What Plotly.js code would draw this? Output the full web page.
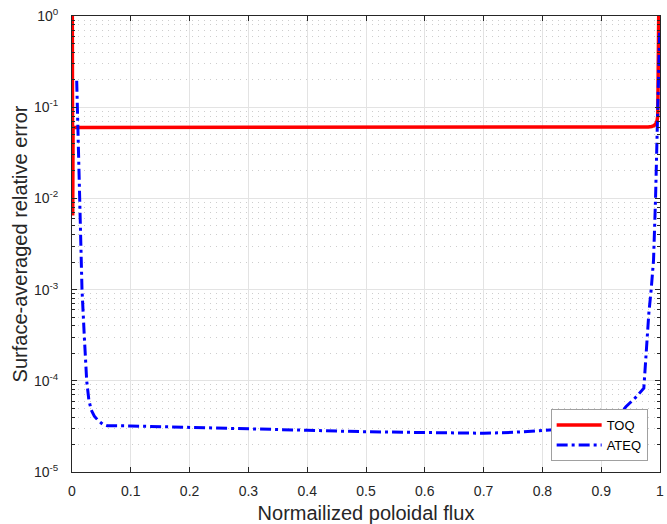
<!DOCTYPE html>
<html>
<head>
<meta charset="utf-8">
<script src="https://cdn.plot.ly/plotly-3.0.1.min.js"></script>
<style>html,body{margin:0;padding:0;background:#fff}#chart{width:667px;height:524px}</style>
</head>
<body>
<div id="chart"></div>
<script>
// TOQ (red, solid)
var toqX = [0.0005, 0.0012, 0.0018, 0.0025, 0.05, 0.2, 0.4, 0.6, 0.8, 0.95, 0.98, 0.986, 0.99, 0.993, 0.995, 0.9962, 0.9966, 0.998];
var toqY = [1.3, 0.0065, 0.06, 0.06, 0.06, 0.06, 0.06, 0.06, 0.06, 0.0602, 0.0607, 0.0615, 0.063, 0.066, 0.071, 0.08, 0.5, 1.3];

// ATEQ (blue, dash-dot)
var ateqX = [0.008, 0.0125, 0.017, 0.021, 0.025, 0.0286, 0.0326, 0.038, 0.044, 0.052, 0.06, 0.1, 0.2, 0.3, 0.4, 0.5, 0.6, 0.7, 0.75, 0.8, 0.85, 0.875, 0.886, 0.89, 0.895, 0.9, 0.908, 0.918, 0.928, 0.942, 0.96, 0.9725, 0.9765, 0.981, 0.985, 0.989, 0.9924, 0.9963, 0.9995];
var ateqY = [0.195, 0.012, 0.001, 3.0e-4, 1.0e-4, 6.2e-5, 4.8e-5, 4.1e-5, 3.7e-5, 3.35e-5, 3.22e-5, 3.2e-5, 3.1e-5, 2.99e-5, 2.87e-5, 2.76e-5, 2.69e-5, 2.66e-5, 2.72e-5, 2.85e-5, 3.0e-5, 3.2e-5, 3.5e-5, 4.0e-5, 3.8e-5, 3.7e-5, 3.6e-5, 3.7e-5, 4.0e-5, 5.2e-5, 6.7e-5, 8.3e-5, 2.0e-4, 5.5e-4, 1.0e-3, 2.1e-3, 9.8e-3, 0.074, 0.72];

var yTickVals = [1e-5, 1e-4, 1e-3, 1e-2, 1e-1, 1];
var yTickText = ['10<sup>-5</sup>', '10<sup>-4</sup>', '10<sup>-3</sup>', '10<sup>-2</sup>', '10<sup>-1</sup>', '10<sup>0</sup>'];

var labels = {x: 'Normailized poloidal flux', y: 'Surface-averaged relative error', toq: 'TOQ', ateq: 'ATEQ'};

var font = 'Liberation Sans, Arial, Helvetica, sans-serif';
var axisColor = '#262626';

var traces = [
  {x: toqX, y: toqY, name: labels.toq, type: 'scatter', mode: 'lines',
   line: {color: '#ff0000', width: 3.5}},
  {x: ateqX, y: ateqY, name: labels.ateq, type: 'scatter', mode: 'lines',
   line: {color: '#0000ff', width: 3, dash: '11px,4px,3px,4px'}}
];

var layout = {
  width: 667, height: 524,
  margin: {l: 72, r: 7, t: 16, b: 52},
  paper_bgcolor: '#ffffff', plot_bgcolor: '#ffffff',
  font: {family: font, color: axisColor, size: 14},
  showlegend: true,
  legend: {x: 0.979, y: 0.024, xanchor: 'right', yanchor: 'bottom',
    bgcolor: '#ffffff', bordercolor: '#a0a0a0', borderwidth: 1,
    font: {family: font, size: 13, color: '#000000'}, itemwidth: 45,
    tracegroupgap: 0},
  xaxis: {
    range: [0, 1], tick0: 0, dtick: 0.1, tickmode: 'linear',
    ticks: 'inside', ticklen: 5, tickcolor: axisColor, tickwidth: 1,
    showline: true, linecolor: axisColor, linewidth: 1, mirror: 'ticks',
    showgrid: true, gridcolor: '#e3e3e3', gridwidth: 1, zeroline: false,
    tickfont: {family: font, size: 14, color: axisColor},
    ticklabelstandoff: 6,
    title: {text: labels.x, font: {family: font, size: 20, color: axisColor}, standoff: 8}
  },
  yaxis: {
    type: 'log', range: [-5, 0],
    tickmode: 'array', tickvals: yTickVals, ticktext: yTickText,
    ticks: 'inside', ticklen: 5, tickcolor: axisColor, tickwidth: 1,
    showline: true, linecolor: axisColor, linewidth: 1, mirror: 'ticks',
    showgrid: true, gridcolor: '#e3e3e3', gridwidth: 1, zeroline: false,
    tickfont: {family: font, size: 14, color: axisColor},
    ticklabelstandoff: 10,
    minor: {dtick: 'D1', ticks: 'inside', ticklen: 3, tickcolor: axisColor,
      showgrid: true, gridcolor: '#cdcdcd', griddash: '1px,5px', gridwidth: 1},
    title: {text: labels.y, font: {family: font, size: 20, color: axisColor}, standoff: 0}
  }
};

Plotly.newPlot('chart', traces, layout, {displayModeBar: false, staticPlot: true});
</script>
</body>
</html>
